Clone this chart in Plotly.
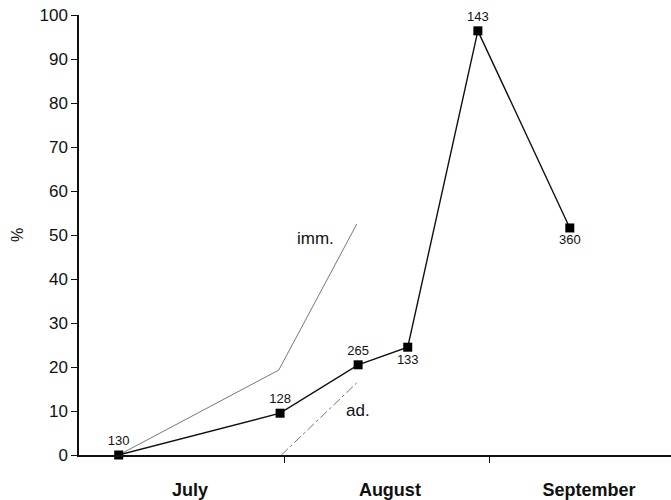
import plotly.graph_objects as go

# Days counted from 1 July
sample_day = [6, 30.4, 42.2, 49.7, 60.3, 74.2]
sample_pct = [0, 9.5, 20.5, 24.5, 96.4, 51.6]
sample_n = ["130", "128", "265", "133", "143", "360"]
label_pos = ["top center", "top center", "top center",
             "bottom center", "top center", "bottom center"]

imm_day = [6, 30.2, 42]
imm_pct = [0, 19.3, 52.5]

ad_day = [30.6, 42]
ad_pct = [0, 16.4]

month_names = ["<b>July</b>", "<b>August</b>", "<b>September</b>"]
month_mid = [16.8, 47.0, 77.1]
month_bounds = [31, 62]

font_family = "Liberation Sans, Arial, sans-serif"

fig = go.Figure()

fig.add_trace(go.Scatter(
    x=imm_day, y=imm_pct, mode="lines",
    line=dict(color="#777777", width=1),
    hoverinfo="skip", showlegend=False,
))
fig.add_trace(go.Scatter(
    x=ad_day, y=ad_pct, mode="lines",
    line=dict(color="#777777", width=1, dash="dashdot"),
    hoverinfo="skip", showlegend=False,
))
fig.add_trace(go.Scatter(
    x=sample_day, y=sample_pct, mode="lines+markers+text",
    line=dict(color="#111111", width=1.4),
    marker=dict(symbol="square", size=9, color="#000000"),
    text=sample_n, textposition=label_pos,
    textfont=dict(family=font_family, size=13, color="#111111"),
    cliponaxis=False, showlegend=False,
))

fig.add_annotation(x=imm_day[-1], y=imm_pct[-1], text="imm.",
                   xanchor="right", yanchor="top", xshift=-21, yshift=-3,
                   showarrow=False,
                   font=dict(family=font_family, size=17, color="#111111"))
fig.add_annotation(x=ad_day[-1], y=ad_pct[-1], text="ad.",
                   xanchor="left", yanchor="top", xshift=-13, yshift=-16,
                   showarrow=False,
                   font=dict(family=font_family, size=17, color="#111111"))

fig.update_layout(
    width=671, height=500,
    margin=dict(l=79, r=0, t=15, b=45),
    paper_bgcolor="white", plot_bgcolor="white",
    font=dict(family=font_family, color="#111111"),
    xaxis=dict(
        range=[0, 89.5], showgrid=False, zeroline=False,
        showline=True, linecolor="#111111", linewidth=1.5,
        tickmode="array", tickvals=month_mid, ticktext=month_names,
        ticks="", ticklen=0,
        tickfont=dict(family=font_family, size=18, color="#111111"),
        ticklabelstandoff=18,
        minor=dict(tickmode="array", tickvals=month_bounds, ticks="outside",
                   ticklen=6, tickwidth=1, tickcolor="#111111", showgrid=False),
    ),
    yaxis=dict(
        range=[0, 100], dtick=10, showgrid=False, zeroline=False,
        showline=True, linecolor="#111111", linewidth=1.5,
        ticks="outside", ticklen=6, tickwidth=1, tickcolor="#111111",
        tickfont=dict(family=font_family, size=17, color="#111111"),
        title=dict(text="%", font=dict(family=font_family, size=16), standoff=12),
    ),
)

fig.write_html("out.html")
